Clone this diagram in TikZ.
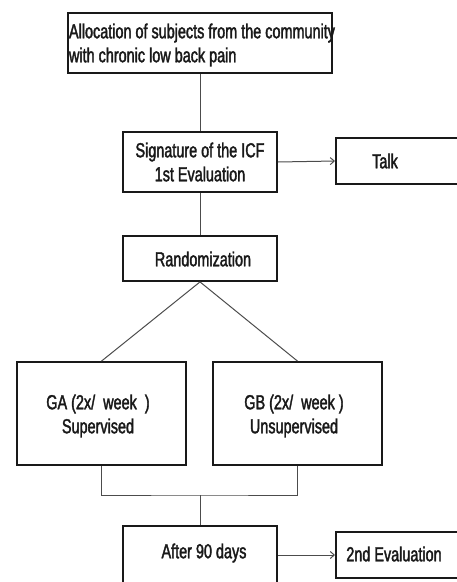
\documentclass[tikz,border=0pt]{standalone}
\usepackage{fontspec}
\setmainfont{Liberation Sans}[FakeStretch=0.71,FakeBold=1.8]
\usetikzlibrary{arrows.meta}
\begin{document}
\begin{tikzpicture}[x=1pt,y=-1pt,
  box/.style={draw=black!90,line width=1.8pt,rectangle,inner sep=0pt},
  conn/.style={draw=black!70,line width=1pt},
  arr/.style={conn,-{Straight Barb[length=4pt,width=7pt]}},
  lbl/.style={font=\fontsize{20.3}{24}\selectfont,align=center,inner sep=0pt,text=black!90}]
\useasboundingbox (0,0) rectangle (457,582);
\clip (0,0) rectangle (457,582);
% boxes
\node[box,minimum width=264pt,minimum height=60pt] (alloc) at (200,43) {};
\node[lbl,align=left] at (202,45) {Allocation of subjects from the community\\ with chronic low back pain};
\node[box,minimum width=154pt,minimum height=60pt] (sig) at (200,162) {};
\node[lbl] at (200,162) {Signature of the ICF\\1st Evaluation};
\node[box,minimum width=140pt,minimum height=46pt,anchor=west] (talk) at (335,161) {};
\node[lbl] at (385,161) {Talk};
\node[box,minimum width=154pt,minimum height=45pt] (rand) at (200,258.5) {};
\node[lbl] at (203,259) {Randomization};
\node[box,minimum width=169pt,minimum height=103pt] (ga) at (101.5,413.5) {};
\node[lbl] at (98,416) {GA (2x/\ \ week\ \ )\\Supervised};
\node[box,minimum width=169pt,minimum height=103pt] (gb) at (297.5,413.5) {};
\node[lbl] at (294,416) {GB (2x/\ \ week )\\Unsupervised};
\node[box,minimum width=154pt,minimum height=80pt,anchor=north] (after) at (200,525) {};
\node[lbl] at (204,553) {After 90 days};
\node[box,minimum width=140pt,minimum height=46pt,anchor=west] (eval) at (335,555) {};
\node[lbl] at (394,554) {2nd Evaluation};
% connectors
\coordinate (j) at (200,495);
\draw[conn] (alloc.south) -- (sig.north);
\draw[arr] (sig.east) -- (talk.west);
\draw[conn] (sig.south) -- (rand.north);
\draw[conn] (rand.south) -- (ga.north);
\draw[conn] (rand.south) -- (gb.north);
\draw[conn] (ga.south) |- (j) -| (gb.south);
\draw[conn] (j) -- (after.north);
\draw[arr] (after.east |- eval.west) -- (eval.west);
\end{tikzpicture}
\end{document}
